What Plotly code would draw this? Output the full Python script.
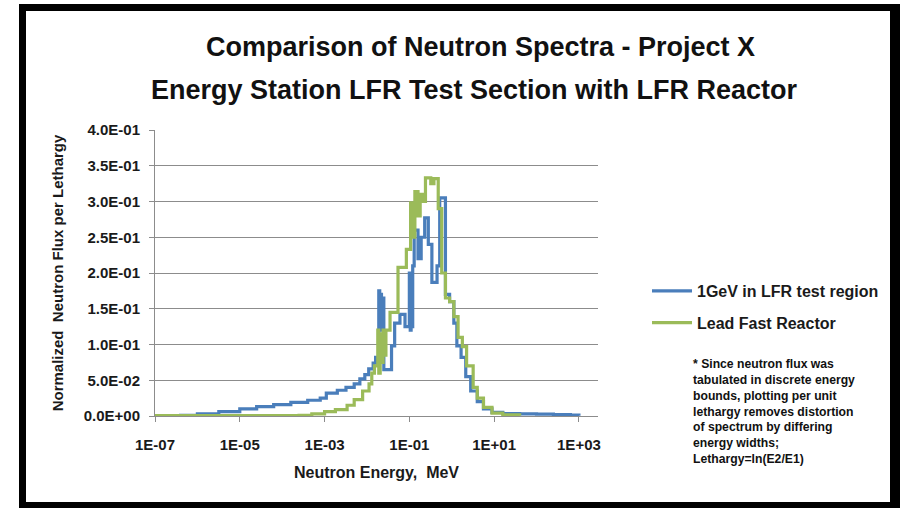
import plotly.graph_objects as go

# ---------------- data ----------------
blue_energy_mev = [1.0e-7, 4.0e-7, 1.0e-6, 3.2e-6, 1.0e-5, 2.5e-5, 6.3e-5, 1.6e-4, 4.0e-4, 7.9e-4,
                   1.1e-3, 2.0e-3, 3.2e-3, 5.0e-3, 6.8e-3, 8.9e-3, 1.1e-2, 1.4e-2, 1.6e-2, 1.9e-2,
                   2.0e-2, 2.1e-2, 2.2e-2, 2.3e-2, 2.5e-2, 3.8e-2, 4.5e-2, 6.0e-2, 7.9e-2, 0.100,
                   0.105, 0.110, 0.115, 0.120, 0.130, 0.160, 0.190, 0.230, 0.280, 0.340,
                   0.450, 0.520, 0.710, 0.890, 1.12, 1.32, 1.66, 2.14, 2.8, 4.0,
                   5.6, 8.9, 16.0, 40.0, 100.0, 250.0, 630.0, 1000.0]
blue_flux = [0.0000, 0.0010, 0.0030, 0.0060, 0.0100, 0.0130, 0.0160, 0.0190, 0.0220, 0.0250,
             0.0320, 0.0360, 0.0400, 0.0450, 0.0520, 0.0580, 0.0660, 0.0740, 0.0820, 0.1750,
             0.1200, 0.1700, 0.1250, 0.1650, 0.0650, 0.0980, 0.1300, 0.1420, 0.1250, 0.2000,
             0.1200, 0.1900, 0.1250, 0.2100, 0.2600, 0.2200, 0.2500, 0.2770, 0.2400, 0.1870,
             0.2100, 0.3050, 0.1700, 0.1600, 0.1300, 0.0980, 0.0820, 0.0550, 0.0350, 0.0200,
             0.0100, 0.0050, 0.0035, 0.0030, 0.0025, 0.0020, 0.0012, 0.0005]

green_energy_mev = [1.0e-7, 2.5e-4, 5.0e-4, 1.0e-3, 1.8e-3, 3.4e-3, 5.0e-3, 7.9e-3, 1.12e-2, 1.3e-2,
                    1.5e-2, 1.8e-2, 1.9e-2, 2.05e-2, 2.2e-2, 2.4e-2, 2.6e-2, 2.8e-2, 3.5e-2, 5.4e-2,
                    8.5e-2, 0.107, 0.120, 0.135, 0.160, 0.180, 0.210, 0.240, 0.320, 0.380,
                    0.480, 0.580, 0.710, 0.890, 1.12, 1.41, 1.78, 2.24, 3.2, 4.0,
                    5.6, 8.9, 16.0, 40.0]
green_flux = [0.0005, 0.0010, 0.0030, 0.0060, 0.0090, 0.0150, 0.0230, 0.0350, 0.0450, 0.0600,
              0.0700, 0.1200, 0.0600, 0.1150, 0.0750, 0.1200, 0.0850, 0.1200, 0.1450, 0.2080,
              0.2330, 0.2980, 0.2500, 0.3140, 0.2800, 0.3100, 0.3000, 0.3330, 0.3250, 0.3320,
              0.2900, 0.2000, 0.1650, 0.1600, 0.1390, 0.1100, 0.0970, 0.0700, 0.0400, 0.0250,
              0.0120, 0.0040, 0.0015, 0.0005]

series_names = ["1GeV in LFR test region", "Lead Fast Reactor"]
series_colors = ["#4A7EBB", "#9BBB59"]

x_tick_values = [1e-7, 1e-5, 1e-3, 1e-1, 1e1, 1e3]
x_tick_labels = ["1E-07", "1E-05", "1E-03", "1E-01", "1E+01", "1E+03"]
y_tick_values = [0.0, 0.05, 0.10, 0.15, 0.20, 0.25, 0.30, 0.35, 0.40]
y_tick_labels = ["0.0E+00", "5.0E-02", "1.0E-01", "1.5E-01", "2.0E-01",
                 "2.5E-01", "3.0E-01", "3.5E-01", "4.0E-01"]

title_line1 = "Comparison of Neutron Spectra - Project X"
title_line2 = "Energy Station LFR Test Section with LFR Reactor"
x_title = "Neutron Energy,  MeV"
y_title = "Normalized  Neutron Flux per Lethargy"
note_text = ("* Since neutron flux was<br>tabulated in discrete energy<br>bounds, plotting per unit<br>"
             "lethargy removes distortion<br>of spectrum by differing<br>energy widths;<br>Lethargy=ln(E2/E1)")

# ---------------- layout geometry ----------------
W, H = 900, 508
ML, MR, MT, MB = 155, 302, 130, 92
PW, PH = W - ML - MR, H - MT - MB


def X(px):
    return (px - ML) / PW


def Y(py):
    return (H - MB - py) / PH


FONT = "Liberation Sans, Arial, sans-serif"

fig = go.Figure()
for i, (xs, ys) in enumerate([(blue_energy_mev, blue_flux), (green_energy_mev, green_flux)]):
    fig.add_trace(go.Scatter(
        x=xs, y=ys, mode="lines", name=series_names[i],
        line=dict(color=series_colors[i], width=3.2, shape="hv"),
        legendgroup=f"g{i}",
    ))

fig.update_layout(
    width=W, height=H, autosize=False,
    margin=dict(l=ML, r=MR, t=MT, b=MB),
    paper_bgcolor="white", plot_bgcolor="white",
    font=dict(family=FONT, color="#1a1a1a"),
    showlegend=True,
    legend=dict(x=X(647), y=Y(274), xanchor="left", yanchor="top",
                font=dict(size=16, family=FONT, weight="bold"),
                tracegroupgap=8, itemwidth=40, bgcolor="rgba(0,0,0,0)"),
    xaxis=dict(type="log", range=[-7, 3.45], tickvals=x_tick_values, ticktext=x_tick_labels,
               showgrid=False, showline=True, linecolor="#8c8c8c", linewidth=1,
               ticks="outside", ticklen=5, tickcolor="#8c8c8c",
               tickfont=dict(size=15, weight="bold", family=FONT), ticklabelstandoff=10,
               title=dict(text=x_title, font=dict(size=16, weight="bold", family=FONT), standoff=14),
               zeroline=False),
    yaxis=dict(range=[0, 0.4], tickvals=y_tick_values, ticktext=y_tick_labels,
               showgrid=True, gridcolor="#8c8c8c", gridwidth=1,
               showline=True, linecolor="#8c8c8c", linewidth=1,
               ticks="outside", ticklen=5, tickcolor="#8c8c8c",
               tickfont=dict(size=15, weight="bold", family=FONT), ticklabelstandoff=6,
               title=dict(text=y_title, font=dict(size=15, weight="bold", family=FONT), standoff=16),
               zeroline=False),
)

# titles
fig.add_annotation(text=title_line1, x=X(480), y=Y(47), xref="paper", yref="paper",
                   showarrow=False, xanchor="center", yanchor="middle",
                   font=dict(size=27, weight="bold", family=FONT, color="#111111"))
fig.add_annotation(text=title_line2, x=X(474), y=Y(90), xref="paper", yref="paper",
                   showarrow=False, xanchor="center", yanchor="middle",
                   font=dict(size=27, weight="bold", family=FONT, color="#111111"))
# footnote
fig.add_annotation(text=note_text, x=X(691), y=Y(355), xref="paper", yref="paper",
                   showarrow=False, xanchor="left", yanchor="top", align="left",
                   font=dict(size=12.2, weight="bold", family=FONT, color="#111111"))

# black picture frame
for (x0, y0, x1, y1) in [(19, 4, 26, 508), (19, 4, 900, 11), (890, 4, 900, 508), (19, 502, 900, 508)]:
    fig.add_shape(type="rect", xref="paper", yref="paper",
                  x0=X(x0), x1=X(x1), y0=Y(y1), y1=Y(y0),
                  fillcolor="black", line=dict(width=0), layer="above")

fig.write_html("out.html")
